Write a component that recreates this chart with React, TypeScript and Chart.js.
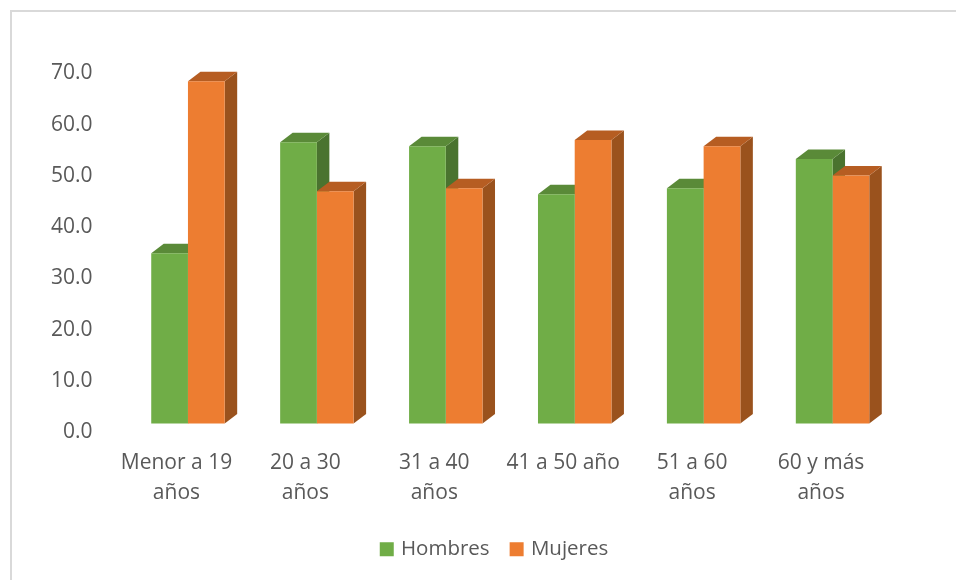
import React, { useEffect, useRef } from "react";
import { Chart, registerables } from "chart.js";

Chart.register(...registerables);

const categories: (string | string[])[] = [
  ["Menor a 19", "años"],
  ["20 a 30", "años"],
  ["31 a 40", "años"],
  "41 a 50 año",
  ["51 a 60", "años"],
  ["60 y más", "años"],
];
const hombres = [34.9, 56.6, 55.8, 46.4, 47.6, 53.3];
const mujeres = [68.5, 47.0, 47.6, 57.0, 55.8, 50.1];

const FONT = "'Open Sans', sans-serif";
const TEXT = "#595959";
const DEPTH_X = 12.5;
const DEPTH_Y = 9.5;
const FLOOR_VALUE = 1.66; // front edge of the 3D floor sits just above the 0.0 label

const faces = [
  { front: "#70AD47", top: "#5A8A38", side: "#4A732F" },
  { front: "#ED7D31", top: "#B65D22", side: "#9A521D" },
];

const depthPlugin = {
  id: "depth",
  beforeDatasetsDraw(chart: any) {
    const { ctx } = chart;
    const counts = chart.data.labels.length;
    for (let i = 0; i < counts; i++) {
      chart.data.datasets.forEach((_: any, d: number) => {
        const bar = chart.getDatasetMeta(d).data[i] as any;
        const left = bar.x - bar.width / 2;
        const right = bar.x + bar.width / 2;
        const top = bar.y;
        const base = bar.base;
        ctx.save();
        ctx.fillStyle = faces[d].side;
        ctx.beginPath();
        ctx.moveTo(right, top);
        ctx.lineTo(right + DEPTH_X, top - DEPTH_Y);
        ctx.lineTo(right + DEPTH_X, base - DEPTH_Y);
        ctx.lineTo(right, base);
        ctx.closePath();
        ctx.fill();
        ctx.fillStyle = faces[d].top;
        ctx.beginPath();
        ctx.moveTo(left, top);
        ctx.lineTo(left + DEPTH_X, top - DEPTH_Y);
        ctx.lineTo(right + DEPTH_X, top - DEPTH_Y);
        ctx.lineTo(right, top);
        ctx.closePath();
        ctx.fill();
        ctx.restore();
      });
    }
  },
};

const legendShift = {
  id: "legendShift",
  afterLayout(chart: any) {
    const legend = chart.legend;
    legend.left += 32;
    legend.right += 32;
    legend.top = 516;
    legend.bottom = 516 + legend.height;
  },
};

export default function App() {
  const ref = useRef<HTMLCanvasElement>(null);
  useEffect(() => {
    const chart = new Chart(ref.current!, {
      type: "bar",
      data: {
        labels: categories as any,
        datasets: [
          { label: "Hombres", data: hombres, backgroundColor: faces[0].front, base: FLOOR_VALUE } as any,
          { label: "Mujeres", data: mujeres, backgroundColor: faces[1].front, base: FLOOR_VALUE } as any,
        ],
      },
      plugins: [depthPlugin, legendShift],
      options: {
        animation: false,
        responsive: false,
        layout: { padding: { left: 30, right: 59, top: 73.5, bottom: 0 } },
        datasets: { bar: { categoryPercentage: 73.5 / 129, barPercentage: 1 } },
        scales: {
          x: {
            grid: { display: false },
            border: { display: false },
            ticks: {
              color: TEXT,
              font: { family: FONT, size: 21, lineHeight: 30 / 21 },
              padding: 8,
              labelOffset: -11.5,
              maxRotation: 0,
              minRotation: 0,
              autoSkip: false,
            },
            afterFit(s: any) {
              s.height = 94.5;
            },
          },
          y: {
            min: 0,
            max: 70,
            grid: { display: false },
            border: { display: false },
            ticks: {
              color: TEXT,
              font: { family: FONT, size: 21 },
              stepSize: 10,
              padding: 23,
              callback: (v: any) => Number(v).toFixed(1),
            },
            afterFit(s: any) {
              s.width = 93.5;
            },
          },
        },
        plugins: {
          tooltip: { enabled: false },
          legend: {
            position: "bottom",
            labels: {
              color: TEXT,
              font: { family: FONT, size: 20.5 },
              boxWidth: 8,
              boxHeight: 8,
              padding: 23,
              generateLabels(c: any) {
                return Chart.defaults.plugins.legend.labels.generateLabels(c).map((item: any) => ({
                  ...item,
                  strokeStyle: item.fillStyle,
                  lineWidth: 6,
                }));
              },
            },
          },
        },
      } as any,
    });
    return () => chart.destroy();
  }, []);
  return (
    <div style={{ position: "fixed", left: 0, top: 0, width: 956, height: 580, background: "#fff", overflow: "hidden" }}>
      <div
        style={{
          position: "absolute",
          left: 10,
          top: 10,
          width: 960,
          height: 600,
          borderLeft: "2px solid #D9D9D9",
          borderTop: "2px solid #D9D9D9",
        }}
      />
      <canvas ref={ref} width={956} height={580} style={{ position: "absolute", left: 0, top: 0, display: "block" }} />
    </div>
  );
}
